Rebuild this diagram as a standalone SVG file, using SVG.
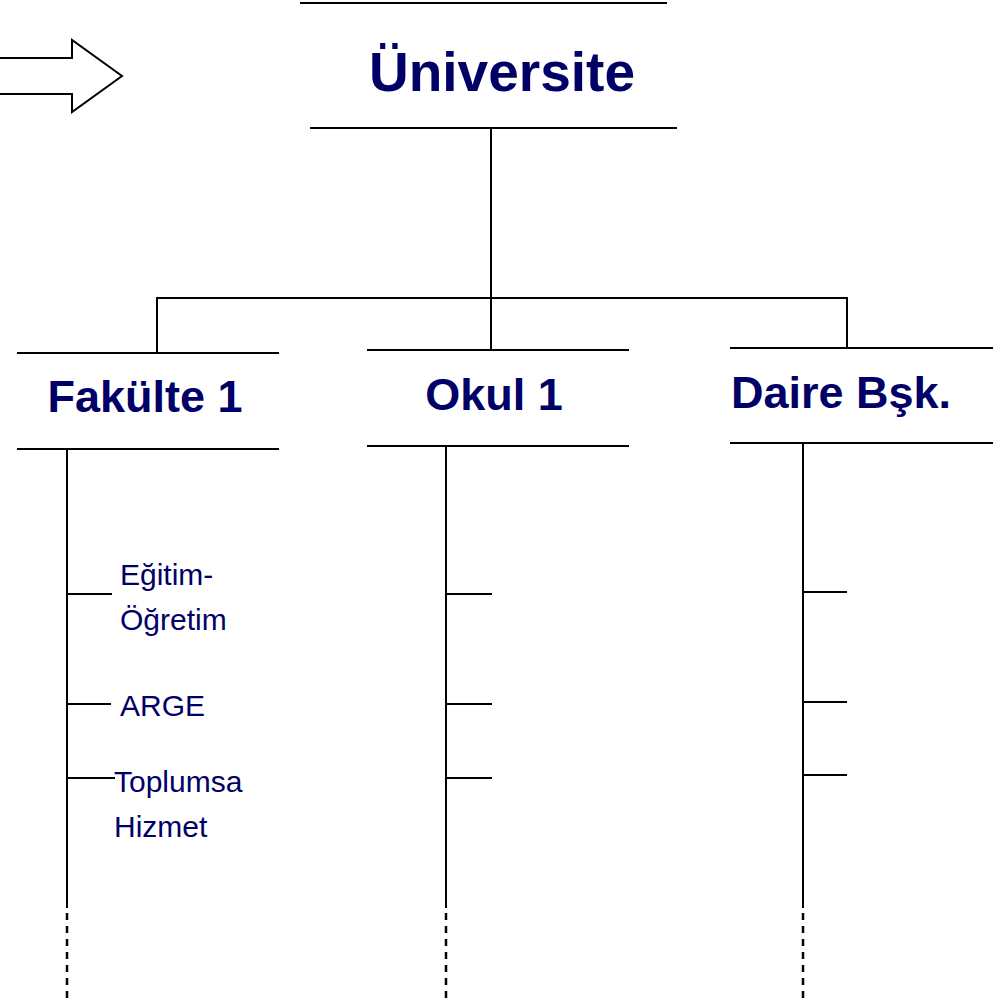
<svg xmlns="http://www.w3.org/2000/svg" width="1002" height="1003" viewBox="0 0 1002 1003">
<style>
.ln{stroke:#000;stroke-width:2;fill:none}
.dash{stroke:#000;stroke-width:2.5;fill:none;stroke-dasharray:7 6}
.title{font-family:"Liberation Sans",Arial,sans-serif;font-weight:bold;fill:#000066}
.sub{font-family:"Liberation Sans",Arial,sans-serif;fill:#000066;font-size:30px}
</style>
<rect width="1002" height="1003" fill="#fff"/>
<g id="arrow">
<polygon points="-5,58 72,58 72,40 122,76 72,112 72,94 -5,94" fill="#fff" stroke="#000" stroke-width="2"/>
</g>
<g id="connectors">
<line class="ln" x1="491" y1="128" x2="491" y2="298"/>
<line class="ln" x1="156" y1="298" x2="848" y2="298"/>
<line class="ln" x1="157" y1="297" x2="157" y2="353"/>
<line class="ln" x1="491" y1="297" x2="491" y2="350"/>
<line class="ln" x1="847" y1="297" x2="847" y2="349"/>
<line class="ln" x1="67" y1="449" x2="67" y2="908"/>
<line class="dash" x1="67" y1="913" x2="67" y2="1003"/>
<line class="ln" x1="446" y1="446" x2="446" y2="908"/>
<line class="dash" x1="446" y1="913" x2="446" y2="1003"/>
<line class="ln" x1="803" y1="443" x2="803" y2="908"/>
<line class="dash" x1="803" y1="913" x2="803" y2="1003"/>
<line class="ln" x1="67" y1="594" x2="112" y2="594"/>
<line class="ln" x1="67" y1="704" x2="111" y2="704"/>
<line class="ln" x1="67" y1="778" x2="115" y2="778"/>
<line class="ln" x1="446" y1="594" x2="492" y2="594"/>
<line class="ln" x1="446" y1="704" x2="492" y2="704"/>
<line class="ln" x1="446" y1="778" x2="492" y2="778"/>
<line class="ln" x1="803" y1="592" x2="847" y2="592"/>
<line class="ln" x1="803" y1="702" x2="847" y2="702"/>
<line class="ln" x1="803" y1="775" x2="847" y2="775"/>
</g>
<g id="universite">
<line class="ln" x1="300" y1="3" x2="667" y2="3"/>
<line class="ln" x1="310" y1="128" x2="677" y2="128"/>
<text class="title" x="502" y="91" font-size="55" text-anchor="middle">Üniversite</text>
</g>
<g id="fakulte1">
<line class="ln" x1="17" y1="353" x2="279" y2="353"/>
<line class="ln" x1="17" y1="449" x2="279" y2="449"/>
<text class="title" x="145" y="412" font-size="45" text-anchor="middle">Fakülte 1</text>
</g>
<g id="okul1">
<line class="ln" x1="367" y1="350" x2="629" y2="350"/>
<line class="ln" x1="367" y1="446" x2="629" y2="446"/>
<text class="title" x="494" y="410" font-size="45" text-anchor="middle">Okul 1</text>
</g>
<g id="daire">
<line class="ln" x1="730" y1="348" x2="993" y2="348"/>
<line class="ln" x1="730" y1="443" x2="993" y2="443"/>
<text class="title" x="731" y="408" font-size="45">Daire Bşk.</text>
</g>
<g id="egitim">
<text class="sub" x="120" y="585">Eğitim-</text>
<text class="sub" x="120" y="630">Öğretim</text>
</g>
<g id="arge">
<text class="sub" x="120" y="716">ARGE</text>
</g>
<g id="toplum">
<text class="sub" x="114" y="792">Toplumsa</text>
<text class="sub" x="114" y="837">Hizmet</text>
</g>
</svg>
